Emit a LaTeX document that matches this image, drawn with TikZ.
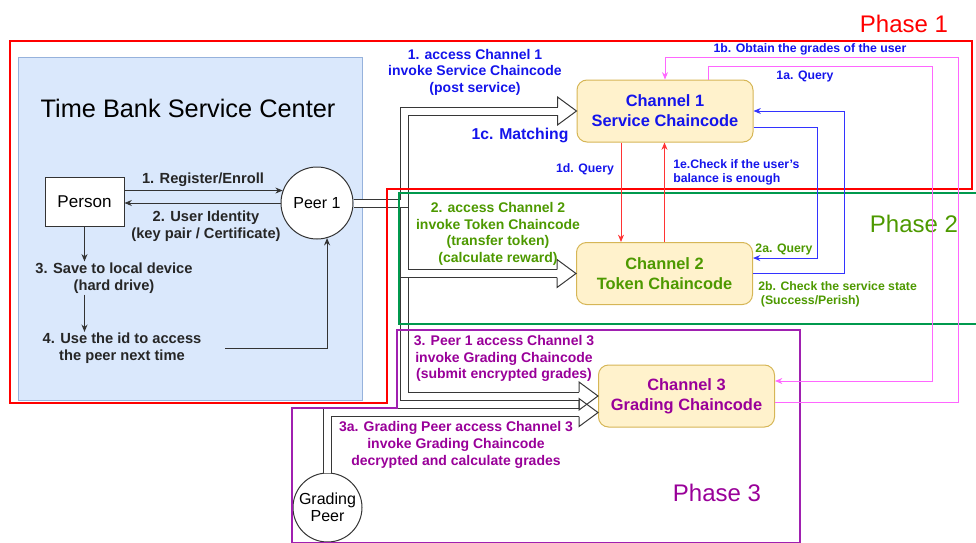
\documentclass[tikz,border=0pt]{standalone}
\usepackage{fontspec}
\setmainfont{Liberation Sans}
\usetikzlibrary{arrows.meta}

\definecolor{panelfill}{RGB}{218,232,252}
\definecolor{paneldraw}{RGB}{150,178,220}
\definecolor{chfill}{RGB}{255,242,204}
\definecolor{chdraw}{RGB}{214,182,86}
\definecolor{txtblue}{RGB}{20,20,235}
\definecolor{txtgreen}{RGB}{77,153,0}
\definecolor{txtpurple}{RGB}{153,0,153}
\definecolor{phred}{RGB}{255,0,0}
\definecolor{phgreen}{RGB}{0,153,77}
\definecolor{phpurple}{RGB}{160,32,176}
\definecolor{lnblue}{RGB}{51,51,255}
\definecolor{lnpink}{RGB}{255,102,255}
\definecolor{lnred}{RGB}{255,51,51}
\definecolor{flexgray}{RGB}{55,55,55}

\tikzset{
  stealthtip/.style={-{Stealth[length=5.5pt,width=4.5pt]}},
  conn/.style={draw=black!80, line width=0.75pt, stealthtip},
  redarrow/.style={draw=lnred, line width=0.75pt, stealthtip},
  bluearrow/.style={draw=lnblue, line width=0.75pt, stealthtip},
  pinkarrow/.style={draw=lnpink, line width=0.75pt, stealthtip},
  panel/.style={draw=paneldraw, fill=panelfill, line width=0.75pt},
  titletext/.style={font=\fontsize{19}{22}\selectfont, inner sep=0pt},
  personbox/.style={draw=black!80, fill=white, line width=0.75pt, minimum width=59.25pt, minimum height=36.75pt, font=\fontsize{12.8}{15}\selectfont},
  peernode/.style={circle, draw=black!80, fill=white, line width=0.75pt, minimum size=54pt, inner sep=0pt, align=center, font=\fontsize{12}{12.75}\selectfont},
  chbox/.style={draw=chdraw, fill=chfill, rounded corners=7.5pt, line width=0.75pt, minimum width=132pt, minimum height=46.5pt, align=center, font=\fontsize{12.3}{15}\selectfont\bfseries},
  leftlbl/.style={font=\fontsize{11}{12.75}\selectfont\bfseries, align=center, inner sep=0.75pt, text=black!85},
  arrowlbl/.style={font=\fontsize{10.5}{12.4}\selectfont\bfseries, align=center, inner sep=0.75pt},
  smalllbl/.style={font=\fontsize{9.2}{10.5}\selectfont\bfseries, align=left, inner sep=0.75pt},
  phaselbl/.style={font=\fontsize{18}{20}\selectfont, inner sep=0pt},
  frame/.style={line width=1.1pt},
  flexshaft/.style={draw=flexgray, line width=0.75pt, double=white, double distance=5.25pt},
  flexline/.style={draw=flexgray, line width=0.75pt},
  flexhead/.pic={\draw[flexline] (-19,-4) -- (-19,-14) -- (0,0) -- (-19,14) -- (-19,4);}
}

\begin{document}
\begin{tikzpicture}[x=0.75pt,y=0.75pt,yscale=-1,xscale=1]
\useasboundingbox (0,0) rectangle (976,543);

%Service center panel
\draw[panel] (18,57) rectangle (362,400);
% Text Node
\node[titletext] (tbtitle) at (188,108) {Time Bank Service Center};

%Shapes
\node[personbox] (person) at (84.5,201.5) {Person};
\node[peernode] (peer1) at (317,203) {Peer 1};
\node[peernode, minimum size=51.75pt] (gpeer) at (327.5,507.5) {Grading\\Peer};
\node[chbox, text=txtblue] (ch1) at (665,111) {Channel 1\\Service Chaincode};
\node[chbox, text=txtgreen] (ch2) at (664.5,273.5) {Channel 2\\Token Chaincode};
\node[chbox, text=txtpurple] (ch3) at (686.5,396) {Channel 3\\Grading Chaincode};

%Flex arrows
\coordinate (split) at (404.5,203);
\draw[flexshaft] (peer1.east) -- (split) |- ([xshift=-14.25pt]ch3.west);
\draw[flexshaft] (peer1.east) -- (split) |- ([xshift=-14.25pt]ch2.west);
\draw[flexshaft] (peer1.east) -- (split) |- ([xshift=-14.25pt]ch1.west);
\draw[flexshaft] (gpeer.north) |- ([xshift=-14.25pt,yshift=12.4pt]ch3.west);
\pic at (ch1.west) {flexhead};
\pic at (ch2.west) {flexhead};
\pic at (ch3.west) {flexhead};
\pic at ([yshift=12.4pt]ch3.west) {flexhead};

%Phase frames
\draw[frame, draw=phred] (10,41) -- (972,41) -- (972,189) -- (387,189) -- (387,403) -- (10,403) -- cycle;
\draw[frame, draw=phgreen] (980,193) -- (399,193) -- (399,324) -- (980,324);
\draw[frame, draw=phpurple] (397,330) -- (800,330) -- (800,542.5) -- (292,542.5) -- (292,408) -- (397,408) -- cycle;

% Text Node
\node[phaselbl, text=phred] (ph1) at (904,24) {Phase 1};
% Text Node
\node[phaselbl, text=txtgreen] (ph2) at (914,224) {Phase 2};
% Text Node
\node[phaselbl, text=txtpurple] (ph3) at (717,493) {Phase 3};

%Left panel labels
\node[leftlbl] (reglbl) at (203,180) {1. Register/Enroll};
\node[leftlbl] (idlbl) at (206,226.5) {2. User Identity\\(key pair / Certificate)};
\node[leftlbl] (savelbl) at (114,278) {3. Save to local device\\(hard drive)};
\node[leftlbl] (uselbl) at (122,348.5) {4. Use the id to access\\the peer next time};

%Left panel connectors
\draw[conn] (person.east |- peer1.160) -- (peer1.160);
\draw[conn] (peer1.west) -- (person.east |- peer1.west);
\draw[conn] (person.south) -- (person.south |- savelbl.north);
\draw[conn] (person.south |- savelbl.south) -- (person.south |- uselbl.north);
\draw[conn] ([xshift=17pt]uselbl.east) -| (peer1.-74);

%Flex arrow labels
\node[arrowlbl, text=txtblue] (acc1) at (475,72) {1. access Channel 1\\invoke Service Chaincode\\(post service)};
\node[arrowlbl, text=txtblue, font=\fontsize{11.8}{14}\selectfont\bfseries] (matchlbl) at (520,135) {1c. Matching};
\node[arrowlbl, text=txtgreen, font=\fontsize{10.5}{12.5}\selectfont\bfseries] (acc2) at (498,234) {2. access Channel 2\\invoke Token Chaincode\\(transfer token)\\(calculate reward)};
\node[arrowlbl, text=txtpurple] (acc3) at (504,358.5) {3. Peer 1 access Channel 3\\invoke Grading Chaincode\\(submit encrypted grades)};
\node[arrowlbl, text=txtpurple, font=\fontsize{10.5}{12.75}\selectfont\bfseries] (acc3a) at (456,445) {3a. Grading Peer access Channel 3\\invoke Grading Chaincode\\decrypted and calculate grades};

%Channel connectors
\draw[redarrow] ([xshift=-33pt]ch1.south) -- ([xshift=-33pt]ch1.south |- ch2.north);
\draw[redarrow] (ch2.north) -- (ch2.north |- ch1.south);
\draw[bluearrow] ([yshift=12pt]ch1.east) -- ++(64,0) |- ([yshift=-11.6pt]ch2.east);
\draw[bluearrow] (ch2.east) -- ++(91,0) |- (ch1.east);
\draw[pinkarrow] ([xshift=32.25pt]ch1.north) -- ++(0,-13) -- ++(224,0) |- ([yshift=-11.25pt]ch3.east);
\draw[pinkarrow] ([yshift=4.5pt]ch3.east) -- ++(183,0) |- ([yshift=-16.5pt]ch1.north) -- (ch1.north);

%Connector labels
\node[smalllbl, text=txtblue] (q1d) at (585,169) {1d. Query};
\node[smalllbl, text=txtblue, anchor=west] (chk1e) at (672,172) {1e.Check if the user's\\balance is enough};
\node[smalllbl, text=txtblue] (obt1b) at (810,49) {1b. Obtain the grades of the user};
\node[smalllbl, text=txtblue] (q1a) at (805,76) {1a. Query};
\node[smalllbl, text=txtgreen] (q2a) at (784,249) {2a. Query};
\node[smalllbl, text=txtgreen, anchor=west] (chk2b) at (757,294) {2b. Check the service state\\\hspace*{2pt}(Success/Perish)};
\end{tikzpicture}
\end{document}
